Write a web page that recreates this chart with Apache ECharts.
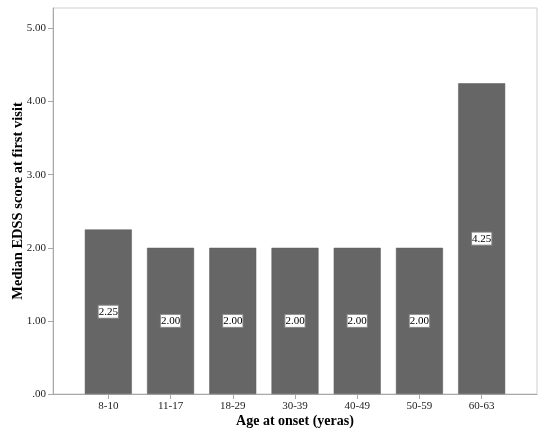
<!DOCTYPE html>
<html><head><meta charset="utf-8">
<script src="https://cdn.jsdelivr.net/npm/echarts@6/dist/echarts.min.js"></script>
<style>html,body{margin:0;padding:0;background:#fff}#c{width:550px;height:438px}</style>
</head><body><div id="c"></div>
<script>
const categories = ['8-10','11-17','18-29','30-39','40-49','50-59','60-63'];
const values = [2.25, 2.00, 2.00, 2.00, 2.00, 2.00, 4.25];
const yTicks = [0, 1, 2, 3, 4, 5];
const xTitle = 'Age at onset (yeras)';
const yTitle = 'Median EDSS score at first visit';

const serif = '"Liberation Serif","Times New Roman",serif';
const chart = echarts.init(document.getElementById('c'), null, {renderer:'canvas'});
chart.setOption({
  animation: false,
  grid: {left: 53, top: 8, right: 13, bottom: 44, show: true, borderColor: '#cfcfcf', borderWidth: 1, backgroundColor: 'transparent', outerBoundsMode: 'none', containLabel: false},
  xAxis: {
    type: 'value', min: -0.889, max: categories.length - 1 + 0.889,
    name: xTitle, nameLocation: 'middle', nameGap: 20, nameMoveOverlap: false,
    nameTextStyle: {fontFamily: serif, fontWeight: 'bold', fontSize: 14, color: '#000'},
    splitLine: {show: false},
    axisLine: {show: true, onZero: false, lineStyle: {color: '#a8a8a8'}},
    axisTick: {show: true, length: 5, lineStyle: {color: '#a8a8a8'}, customValues: categories.map((c, i) => i)},
    axisLabel: {customValues: categories.map((c, i) => i), formatter: v => categories[Math.round(v)] || '', fontFamily: serif, fontSize: 11, color: '#222', margin: 7}
  },
  yAxis: {
    type: 'value', min: 0, max: 5.28,
    name: yTitle, nameLocation: 'middle', nameGap: 27, nameRotate: 90, nameMoveOverlap: false,
    nameTextStyle: {fontFamily: serif, fontWeight: 'bold', fontSize: 14.5, color: '#000'},
    splitLine: {show: false},
    axisLine: {show: true, onZero: false, lineStyle: {color: '#a8a8a8'}},
    axisTick: {show: true, length: 5, lineStyle: {color: '#a8a8a8'}, customValues: yTicks},
    axisLabel: {customValues: yTicks, formatter: v => v === 0 ? '.00' : v.toFixed(2), fontFamily: serif, fontSize: 11, color: '#222', margin: 7}
  },
  series: [{
    type: 'bar',
    data: values.map((v, i) => [i, v]),
    barWidth: 47,
    itemStyle: {color: '#666666', borderColor: '#5a5a5a', borderWidth: 0.5},
    label: {
      show: true, position: 'inside',
      formatter: p => p.value[1].toFixed(2),
      fontFamily: serif, fontSize: 11, lineHeight: 11, color: '#000',
      backgroundColor: '#fff', borderColor: '#888', borderWidth: 1,
      padding: [1, 0, 0, 0]
    }
  }]
});
</script></body></html>
